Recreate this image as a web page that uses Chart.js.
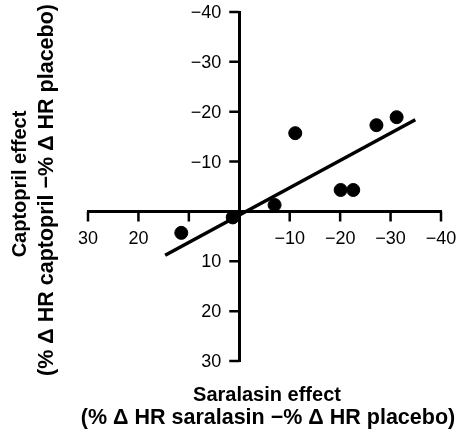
<!DOCTYPE html>
<html>
<head>
<meta charset="utf-8">
<script src="https://cdn.jsdelivr.net/npm/chart.js@4.4.0/dist/chart.umd.min.js"></script>
<style>
  body { margin: 0; background: #fff; }
  #box { width: 458px; height: 434px; }
</style>
</head>
<body>
<div id="box"><canvas id="chart"></canvas></div>
<script>
// saralasin effect (x) vs captopril effect (y), % change in HR minus placebo
var saralasinX = [11.5, 1.3, -7.0, -11.1, -20.1, -22.6, -27.2, -31.2];
var captoprilY = [4.3, 1.2, -1.3, -15.7, -4.3, -4.3, -17.3, -18.9];
// regression line end points
var fitX = [14.7, -34.9];
var fitY = [8.8, -18.4];
var xTicks = [30, 20, 10, 0, -10, -20, -30, -40];
var yTicks = [-40, -30, -20, -10, 0, 10, 20, 30];
var xTitle = ["Saralasin effect", "(% \u0394 HR saralasin \u2212% \u0394 HR placebo)"];
var yTitle = ["Captopril effect", "(% \u0394 HR captopril \u2212% \u0394 HR placebo)"];

var fontName = "'Liberation Sans', Arial, sans-serif";

function toPoints(xs, ys) {
  var pts = [];
  for (var i = 0; i < xs.length; i++) {
    pts.push({ x: xs[i], y: ys[i] });
  }
  return pts;
}

function fmt(v) {
  if (v < 0) { return "\u2212" + Math.abs(v); }
  return "" + v;
}

// tick marks hanging off the crossed axes, y tick labels and both axis titles
var axesExtras = {
  id: "axesExtras",
  afterDraw: function (chart) {
    var ctx = chart.ctx;
    var xs = chart.scales.x, ys = chart.scales.y;
    var x0 = xs.getPixelForValue(0), y0 = ys.getPixelForValue(0);
    var i, p;

    ctx.save();
    ctx.strokeStyle = "#000";
    ctx.lineWidth = 2.5;
    ctx.beginPath();
    for (i = 0; i < xTicks.length; i++) {
      p = xs.getPixelForValue(xTicks[i]);
      ctx.moveTo(p, y0);
      ctx.lineTo(p, y0 + 10);
    }
    for (i = 0; i < yTicks.length; i++) {
      p = ys.getPixelForValue(yTicks[i]);
      ctx.moveTo(x0, p);
      ctx.lineTo(x0 - 10, p);
    }
    ctx.stroke();

    ctx.fillStyle = "#000";
    ctx.textAlign = "right";
    ctx.textBaseline = "middle";
    ctx.font = "18px " + fontName;
    for (i = 0; i < yTicks.length; i++) {
      if (yTicks[i] === 0) { continue; }
      ctx.fillText(fmt(yTicks[i]), x0 - 18, ys.getPixelForValue(yTicks[i]) + 1);
    }

    ctx.textAlign = "center";
    ctx.font = "bold 20px " + fontName;
    ctx.fillText(xTitle[0], 267, 395);
    ctx.font = "bold 21.5px " + fontName;
    ctx.fillText(xTitle[1], 268, 418);
    ctx.restore();

    ctx.save();
    ctx.fillStyle = "#000";
    ctx.textAlign = "center";
    ctx.textBaseline = "middle";
    ctx.translate(20, 184);
    ctx.rotate(-Math.PI / 2);
    ctx.font = "bold 20px " + fontName;
    ctx.fillText(yTitle[0], 0, 0);
    ctx.restore();

    ctx.save();
    ctx.fillStyle = "#000";
    ctx.textAlign = "center";
    ctx.textBaseline = "middle";
    ctx.translate(47, 190);
    ctx.rotate(-Math.PI / 2);
    ctx.font = "bold 21.5px " + fontName;
    ctx.fillText(yTitle[1], 0, 0);
    ctx.restore();
  }
};

new Chart(document.getElementById("chart"), {
  type: "scatter",
  data: {
    datasets: [
      {
        data: toPoints(saralasinX, captoprilY),
        backgroundColor: "#000",
        borderColor: "#000",
        pointRadius: 6.5,
        pointHoverRadius: 6.5
      },
      {
        type: "line",
        data: toPoints(fitX, fitY),
        borderColor: "#000",
        borderWidth: 3.5,
        pointRadius: 0,
        fill: false
      }
    ]
  },
  options: {
    responsive: true,
    maintainAspectRatio: false,
    animation: false,
    layout: { padding: { left: 88, right: 17, top: 12, bottom: 73 } },
    plugins: { legend: { display: false }, tooltip: { enabled: false } },
    scales: {
      x: {
        type: "linear",
        reverse: true,
        min: -40,
        max: 30,
        position: { y: 0 },
        border: { color: "#000", width: 3 },
        // invisible tick length only pushes the labels down
        grid: { drawOnChartArea: false, drawTicks: true, tickLength: 17, tickColor: "rgba(0,0,0,0)" },
        afterBuildTicks: function (axis) {
          axis.ticks = xTicks.map(function (v) { return { value: v }; });
        },
        ticks: {
          color: "#000",
          padding: 0,
          maxRotation: 0,
          autoSkip: false,
          font: { family: fontName, size: 18 },
          callback: function (v) { return (v === 0 || v === 10) ? "" : fmt(v); }
        }
      },
      y: {
        type: "linear",
        reverse: true,
        min: -40,
        max: 30,
        position: { x: 0 },
        border: { color: "#000", width: 3 },
        grid: { drawOnChartArea: false, drawTicks: false },
        afterBuildTicks: function (axis) {
          axis.ticks = yTicks.map(function (v) { return { value: v }; });
        },
        ticks: { display: false }
      }
    }
  },
  plugins: [axesExtras]
});
</script>
</body>
</html>
